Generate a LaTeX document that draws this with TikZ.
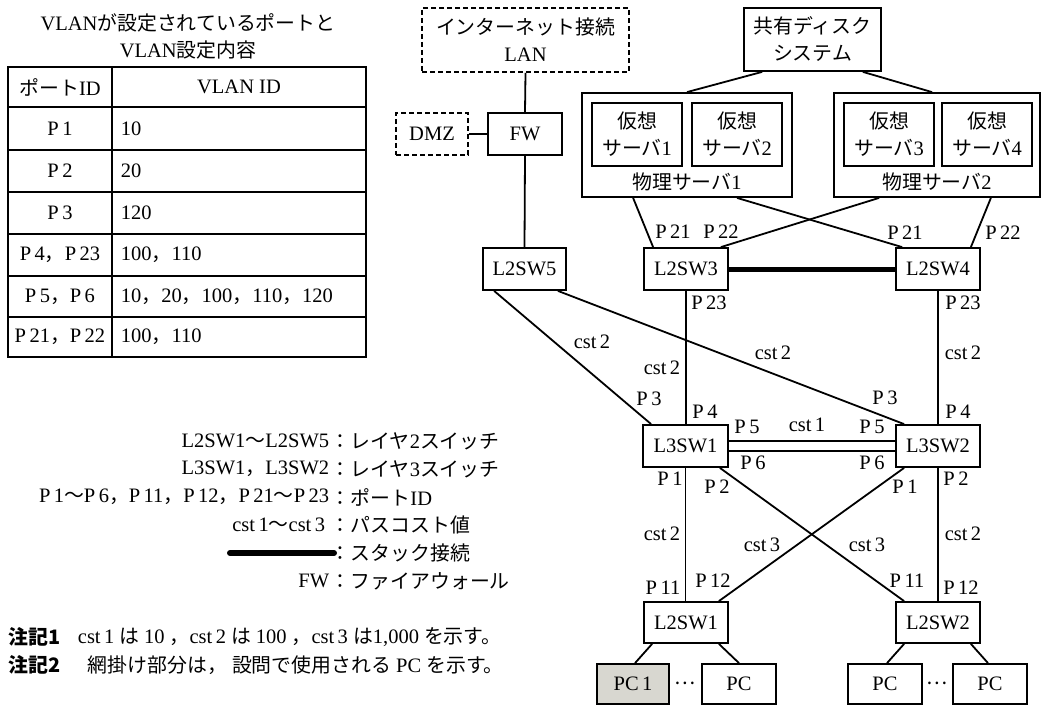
\documentclass[tikz,border=0pt]{standalone}
\usepackage{fontspec}
\setmainfont{Liberation Serif}
\newfontfamily\jp[Scale=0.97]{Noto Sans CJK JP}
\definecolor{pcfill}{RGB}{216,215,208}
\newcommand{\gp}{\hspace{5pt}}
\begin{document}
\begin{tikzpicture}[x=1pt,y=-1pt,line width=1.8pt,
  font=\fontsize{20.5}{27}\selectfont,
  box/.style={draw,line width=1.8pt,inner sep=0pt,align=center,minimum height=42pt},
  dbox/.style={box,dash pattern=on 5pt off 3pt},
  lbl/.style={inner sep=0pt,font=\fontsize{20.5}{22}\selectfont},
  txt/.style={inner sep=0pt,align=center,font=\fontsize{20.5}{27}\selectfont},
  conn/.style={line width=1.8pt},
  stack/.style={line width=5pt}]
\useasboundingbox (0,0) rectangle (1042,706);

% ---------- table ----------
\node[txt] (tt1) at (188,23) {VLAN{\jp が設定されているポートと}};
\node[txt] (tt2) at (188,50) {VLAN{\jp 設定内容}};
\draw (8,67) rectangle (366,357);
\draw (112,67) -- (112,357);
\foreach \yy in {107,150,192,234,276,317} \draw (8,\yy) -- (366,\yy);
\node[txt] (th1) at (60,87) {{\jp ポート}ID};
\node[txt] (th2) at (239,87) {VLAN ID};
\node[txt] (r1a) at (60,128.5) {P\,1};
\node[txt,anchor=west] (r1b) at (120,128.5) {10};
\node[txt] (r2a) at (60,171) {P\,2};
\node[txt,anchor=west] (r2b) at (120,171) {20};
\node[txt] (r3a) at (60,213) {P\,3};
\node[txt,anchor=west] (r3b) at (120,213) {120};
\node[txt] (r4a) at (60,255) {P\,4{\jp ，}P\,23};
\node[txt,anchor=west] (r4b) at (120,255) {100{\jp ，}110};
\node[txt] (r5a) at (60,297) {P\,5{\jp ，}P\,6};
\node[txt,anchor=west] (r5b) at (120,297) {10{\jp ，}20{\jp ，}100{\jp ，}110{\jp ，}120};
\node[txt] (r6a) at (60,337) {P\,21{\jp ，}P\,22};
\node[txt,anchor=west] (r6b) at (120,337) {100{\jp ，}110};

% ---------- legend ----------
\node[txt,anchor=east] (lg1a) at (330,441) {L2SW1{\jp ～}L2SW5};
\node[txt,anchor=west] (lg1b) at (330,441) {{\jp ：レイヤ}2{\jp スイッチ}};
\node[txt,anchor=east] (lg2a) at (330,469) {L3SW1{\jp ，}L3SW2};
\node[txt,anchor=west] (lg2b) at (330,469) {{\jp ：レイヤ}3{\jp スイッチ}};
\node[txt,anchor=east] (lg3a) at (330,497) {P\,1{\jp ～}P\,6{\jp ，}P\,11{\jp ，}P\,12{\jp ，}P\,21{\jp ～}P\,23};
\node[txt,anchor=west] (lg3b) at (330,497) {{\jp ：ポート}ID};
\node[txt,anchor=east] (lg4a) at (326,525) {cst\,1{\jp ～}cst\,3};
\node[txt,anchor=west] (lg4b) at (330,525) {{\jp ：パスコスト値}};
\coordinate (lgs1) at (230,553);
\coordinate (lgs2) at (334,553);
\draw[line width=6pt,line cap=round] (lgs1) -- (lgs2);
\node[txt,anchor=west] (lg5b) at (330,553) {{\jp ：スタック接続}};
\node[txt,anchor=east] (lg6a) at (330,581) {FW};
\node[txt,anchor=west] (lg6b) at (330,581) {{\jp ：ファイアウォール}};
\node[txt,anchor=west] (n1a) at (8,637) {{\jp\bfseries 注記1}};
\node[txt,anchor=west] (n1b) at (77,637) {cst\,1\gp{\jp は}\gp 10\gp{\jp ，}cst\,2\gp{\jp は}\gp 100\gp{\jp ，}cst\,3\gp{\jp は}1,000\gp{\jp を示す。}};
\node[txt,anchor=west] (n2a) at (8,665) {{\jp\bfseries 注記2}};
\node[txt,anchor=west] (n2b) at (87,665) {{\jp 網掛け部分は，}\gp{\jp 設問で使用される}\gp PC\gp{\jp を示す。}};

% ---------- network ----------
\node[dbox,minimum width=207pt,minimum height=64pt] (lan) at (525.5,40) {{\jp インターネット接続}\\LAN};
\node[dbox,minimum width=72pt] (dmz) at (432,134) {DMZ};
\node[box,minimum width=74pt] (fw) at (525,134) {FW};
\node[box,minimum width=83pt] (l2sw5) at (524.5,269) {L2SW5};
\node[box,minimum width=137pt,minimum height=63pt] (disk) at (812.5,39.5) {{\jp 共有ディスク}\\{\jp システム}};
\node[box,minimum width=210pt,minimum height=104pt] (phys1) at (687,145) {};
\node[box,minimum width=206pt,minimum height=104pt] (phys2) at (937,145) {};
\node[txt] (phys1t) at (687,182) {{\jp 物理サーバ}1};
\node[txt] (phys2t) at (937,182) {{\jp 物理サーバ}2};
\node[box,minimum width=90pt,minimum height=63pt] (v1) at (637,134.5) {{\jp 仮想}\\{\jp サーバ}1};
\node[box,minimum width=90pt,minimum height=63pt] (v2) at (737,134.5) {{\jp 仮想}\\{\jp サーバ}2};
\node[box,minimum width=90pt,minimum height=63pt] (v3) at (889,134.5) {{\jp 仮想}\\{\jp サーバ}3};
\node[box,minimum width=90pt,minimum height=63pt] (v4) at (987,134.5) {{\jp 仮想}\\{\jp サーバ}4};
\node[box,minimum width=84pt] (l2sw3) at (686,269) {L2SW3};
\node[box,minimum width=84pt] (l2sw4) at (938,269) {L2SW4};
\node[box,minimum width=85pt] (l3sw1) at (685.5,446) {L3SW1};
\node[box,minimum width=84pt] (l3sw2) at (938,446) {L3SW2};
\node[box,minimum width=84pt,minimum height=41pt] (l2sw1) at (686,622.5) {L2SW1};
\node[box,minimum width=84pt,minimum height=41pt] (l2sw2) at (938,622.5) {L2SW2};
\node[box,minimum width=72pt,minimum height=40pt,fill=pcfill] (pc1) at (633,684) {PC\,1};
\node[box,minimum width=74pt,minimum height=40pt] (pc2) at (739,684) {PC};
\node[box,minimum width=74pt,minimum height=40pt] (pc3) at (885,684) {PC};
\node[box,minimum width=74pt,minimum height=40pt] (pc4) at (990,684) {PC};
\node[txt] (dots1) at (685.5,683) {{\jp …}};
\node[txt] (dots2) at (937.5,683) {{\jp …}};

% connectors
\draw[conn] (lan.south) -- (fw.north);
\draw[conn] (dmz.east) -- (fw.west);
\draw[conn] (fw.south) -- (l2sw5.north);
\draw[conn] ([xshift=19pt]disk.south west) -- (phys1.north);
\draw[conn] ([xshift=-19pt]disk.south east) -- ([xshift=-5pt]phys2.north);
\draw[conn] ([xshift=52pt]phys1.south west) -- ([xshift=10pt]l2sw3.north west);
\draw[conn] ([xshift=50pt]phys1.south) -- ([xshift=7pt]l2sw4.north west);
\draw[conn] ([xshift=46pt]phys2.south west) -- ([xshift=-8pt]l2sw3.north east);
\draw[conn] ([xshift=-50pt]phys2.south east) -- ([xshift=-10pt]l2sw4.north east);
\draw[stack] (l2sw3.east) -- (l2sw4.west);
\draw[conn] (l2sw3.south) -- (l2sw3.south |- l3sw1.north);
\draw[conn] (l2sw4.south) -- (l2sw4.south |- l3sw2.north);
\draw[conn] ([xshift=12pt]l2sw5.south west) -- ([xshift=9pt]l3sw1.north west);
\draw[conn] ([xshift=-9pt]l2sw5.south east) -- ([xshift=9pt]l3sw2.north west);
\draw[conn] ([yshift=5pt]l3sw1.east) -- ([yshift=5pt]l3sw2.west);
\draw[conn] ([yshift=-5pt]l3sw1.east) -- ([yshift=-5pt]l3sw2.west);
\draw[conn] (l3sw1.south) -- (l3sw1.south |- l2sw1.north);
\draw[conn] (l3sw2.south) -- (l3sw2.south |- l2sw2.north);
\draw[conn] ([xshift=-9pt]l3sw1.south east) -- ([xshift=9pt]l2sw2.north west);
\draw[conn] ([xshift=9pt]l3sw2.south west) -- ([xshift=-10pt]l2sw1.north east);
\draw[conn] ([xshift=9pt]l2sw1.south west) -- ([xshift=2pt]pc1.north);
\draw[conn] ([xshift=-10pt]l2sw1.south east) -- (pc2.north);
\draw[conn] ([xshift=9pt]l2sw2.south west) -- ([xshift=2pt]pc3.north);
\draw[conn] ([xshift=-10pt]l2sw2.south east) -- ([xshift=-2pt]pc4.north);

% labels
\node[lbl] (p21a) at (673,232) {P\,21};
\node[lbl] (p22a) at (721,232) {P\,22};
\node[lbl] (p21b) at (905,233) {P\,21};
\node[lbl] (p22b) at (1003,233) {P\,22};
\node[lbl] (p23a) at (709,303) {P\,23};
\node[lbl] (p23b) at (963,303) {P\,23};
\node[lbl] (c2a) at (592,342) {cst\,2};
\node[lbl] (c2b) at (662,368) {cst\,2};
\node[lbl] (c2c) at (773,353) {cst\,2};
\node[lbl] (c2d) at (963,353) {cst\,2};
\node[lbl] (p3a) at (649,399) {P\,3};
\node[lbl] (p4a) at (705,412) {P\,4};
\node[lbl] (p5a) at (747,427) {P\,5};
\node[lbl] (c1) at (807,425) {cst\,1};
\node[lbl] (p5b) at (872,427) {P\,5};
\node[lbl] (p6a) at (753,463) {P\,6};
\node[lbl] (p6b) at (872,463) {P\,6};
\node[lbl] (p3b) at (885,398) {P\,3};
\node[lbl] (p4b) at (958,412) {P\,4};
\node[lbl] (p1a) at (670,479) {P\,1};
\node[lbl] (p2a) at (717,487) {P\,2};
\node[lbl] (p1b) at (905,487) {P\,1};
\node[lbl] (p2b) at (956,479) {P\,2};
\node[lbl] (c2e) at (662,534) {cst\,2};
\node[lbl] (c3a) at (762,545) {cst\,3};
\node[lbl] (c3b) at (867,545) {cst\,3};
\node[lbl] (c2f) at (963,534) {cst\,2};
\node[lbl] (p11a) at (663,588) {P\,11};
\node[lbl] (p12a) at (713,581) {P\,12};
\node[lbl] (p11b) at (907,581) {P\,11};
\node[lbl] (p12b) at (961,588) {P\,12};
\end{tikzpicture}
\end{document}
